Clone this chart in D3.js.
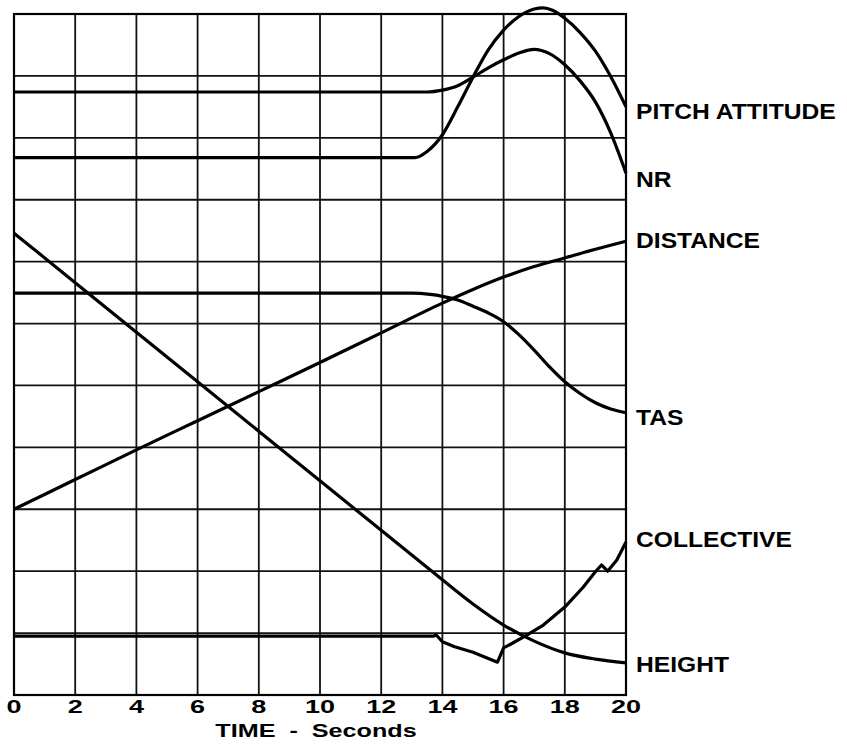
<!DOCTYPE html>
<html>
<head>
<meta charset="utf-8">
<script src="https://cdn.jsdelivr.net/npm/d3@7"></script>
<style>
  body { margin: 0; background: #fff; }
  text { font-family: "Liberation Sans", Arial, sans-serif; font-weight: bold; fill: #000; }
</style>
</head>
<body>
<svg id="chart" width="847" height="745"></svg>
<script>
// time in seconds, values in grid divisions counted up from the bottom line
var timeTicks = [0, 2, 4, 6, 8, 10, 12, 14, 16, 18, 20];

var pitchAttitude = [[0, 8.68], [13.1, 8.68], [13.5, 8.78], [14, 9.05], [14.5, 9.5], [15, 9.98], [15.5, 10.42],
  [16, 10.74], [16.5, 10.96], [17, 11.08], [17.3, 11.1], [17.6, 11.06], [18, 10.93], [18.5, 10.7],
  [19, 10.4], [19.5, 9.99], [20, 9.5]];

var nr = [[0, 9.74], [13.5, 9.74], [14, 9.77], [14.5, 9.84], [15, 9.98], [15.5, 10.13], [16, 10.26],
  [16.5, 10.37], [17, 10.43], [17.5, 10.36], [18, 10.18], [18.5, 9.92], [19, 9.58], [19.5, 9.08], [20, 8.43]];

var distance = [[0, 3.0], [2, 3.48], [4, 3.96], [6, 4.43], [8, 4.9], [10, 5.37], [12, 5.85], [14, 6.33],
  [15, 6.55], [16, 6.75], [17, 6.92], [18, 7.06], [19, 7.2], [20, 7.33]];

var tas = [[0, 6.49], [13, 6.49], [13.6, 6.47], [14, 6.44], [14.5, 6.38], [15, 6.28], [15.5, 6.17],
  [16, 6.03], [16.5, 5.82], [17, 5.57], [17.5, 5.3], [18, 5.06], [18.5, 4.87], [19, 4.72], [19.5, 4.62], [20, 4.56]];

var collective = [[0, 0.95], [13.7, 0.95], [13.8, 0.97], [14, 0.86], [14.4, 0.78], [15, 0.69], [15.8, 0.53],
  [16, 0.76], [16.3, 0.84], [16.7, 0.95], [17.3, 1.13], [18, 1.42], [18.6, 1.74], [19, 1.99],
  [19.2, 2.1], [19.4, 2.0], [19.7, 2.18], [20, 2.47]];

var height = [[0, 7.46], [2, 6.66], [4, 5.86], [6, 5.06], [8, 4.26], [10, 3.46], [12, 2.66], [13, 2.26],
  [14, 1.86], [15, 1.47], [16, 1.13], [17, 0.87], [18, 0.68], [19, 0.58], [20, 0.52]];

var labels = ["PITCH ATTITUDE", "NR", "DISTANCE", "TAS", "COLLECTIVE", "HEIGHT"];
var labelRows = [9.31, 8.21, 7.22, 4.36, 2.39, 0.37];

var svg = d3.select("#chart"),
    margin = {top: 14, right: 221, bottom: 50, left: 14},
    width = +svg.attr("width") - margin.left - margin.right,
    plotH = +svg.attr("height") - margin.top - margin.bottom,
    g = svg.append("g").attr("transform", "translate(" + margin.left + "," + margin.top + ")");

var x = d3.scaleLinear().domain([0, 20]).range([0, width]);
var y = d3.scaleLinear().domain([0, 11]).range([plotH, 0]);

// grid
g.append("g")
  .selectAll("line")
  .data(timeTicks)
  .enter().append("line")
    .attr("x1", function(d) { return x(d); })
    .attr("x2", function(d) { return x(d); })
    .attr("y1", 0)
    .attr("y2", plotH)
    .attr("stroke", "#111")
    .attr("stroke-width", 1.8);

g.append("g")
  .selectAll("line")
  .data(d3.range(0, 12))
  .enter().append("line")
    .attr("x1", 0)
    .attr("x2", width)
    .attr("y1", function(d) { return y(d); })
    .attr("y2", function(d) { return y(d); })
    .attr("stroke", "#111")
    .attr("stroke-width", 1.8);

g.append("rect")
  .attr("width", width)
  .attr("height", plotH)
  .attr("fill", "none")
  .attr("stroke", "#000")
  .attr("stroke-width", 2.2);

// traces
var smooth = d3.line()
  .x(function(d) { return x(d[0]); })
  .y(function(d) { return y(d[1]); })
  .curve(d3.curveMonotoneX);

var straight = d3.line()
  .x(function(d) { return x(d[0]); })
  .y(function(d) { return y(d[1]); });

[pitchAttitude, nr, distance, tas, height].forEach(function(s) {
  g.append("path")
    .attr("d", smooth(s))
    .attr("fill", "none")
    .attr("stroke", "#000")
    .attr("stroke-width", 3.2)
    .attr("stroke-linejoin", "round");
});

g.append("path")
  .attr("d", straight(collective))
  .attr("fill", "none")
  .attr("stroke", "#000")
  .attr("stroke-width", 3.2)
  .attr("stroke-linejoin", "round");

// time labels
g.append("g")
  .selectAll("g")
  .data(timeTicks)
  .enter().append("g")
    .attr("transform", function(d) { return "translate(" + x(d) + "," + (plotH + 18) + ")"; })
  .append("text")
    .attr("transform", "scale(1.5,1)")
    .attr("text-anchor", "middle")
    .attr("font-size", 18)
    .text(function(d) { return d; });

g.append("g")
  .attr("transform", "translate(" + (x(10) - 4) + "," + (plotH + 42) + ")")
  .append("text")
    .attr("transform", "scale(1.4,1)")
    .attr("text-anchor", "middle")
    .attr("font-size", 18)
    .style("white-space", "pre")
    .text("TIME  -  Seconds");

// trace names
g.append("g")
  .selectAll("g")
  .data(labels)
  .enter().append("g")
    .attr("transform", function(d, i) { return "translate(" + (width + 10) + "," + y(labelRows[i]) + ")"; })
  .append("text")
    .attr("transform", "scale(1.12,1)")
    .attr("font-size", 22)
    .text(function(d) { return d; });
</script>
</body>
</html>
